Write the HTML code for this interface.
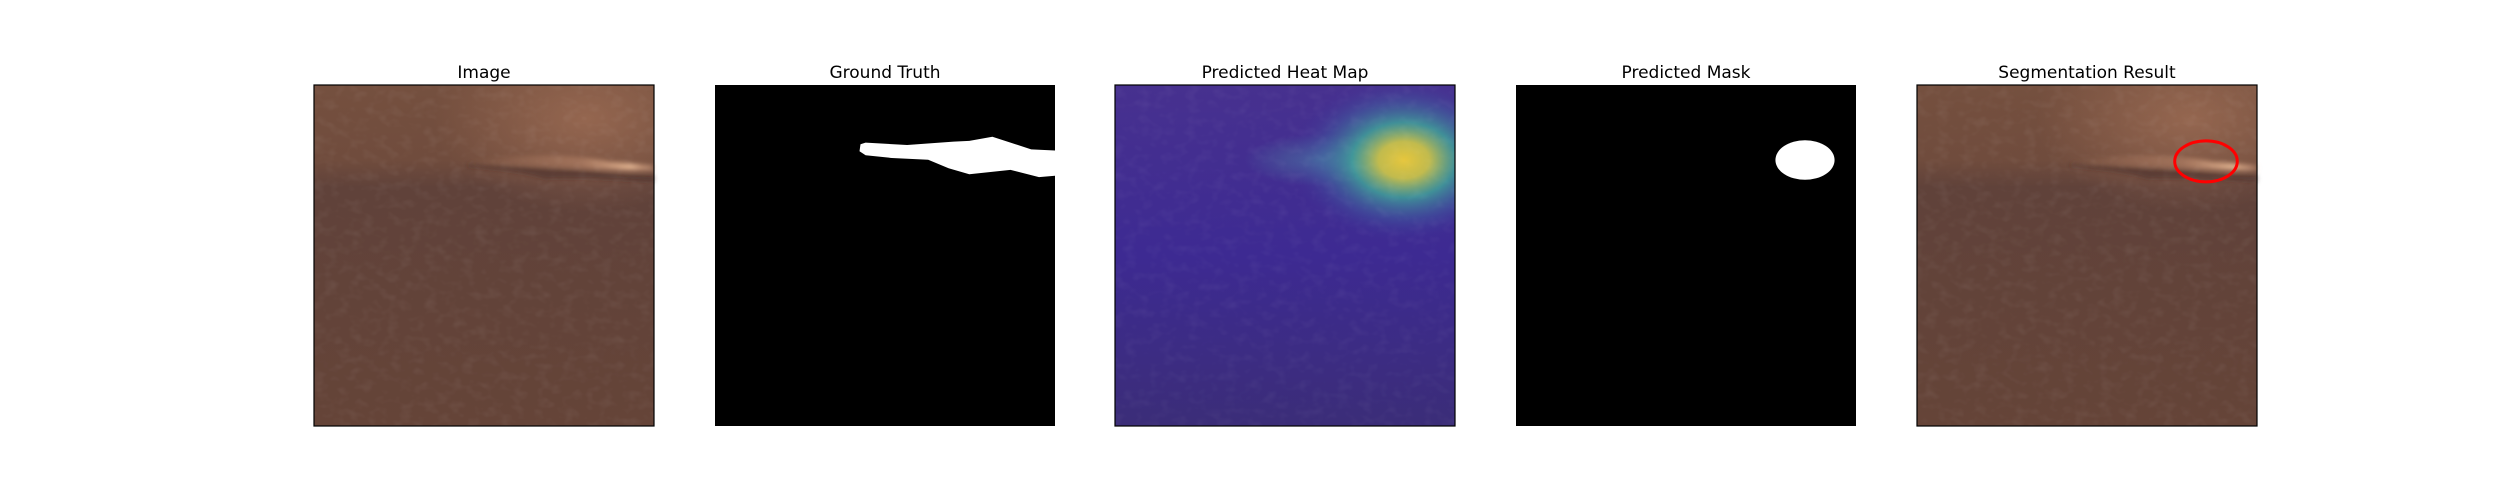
<!DOCTYPE html>
<html><head><meta charset="utf-8">
<style>
html,body{margin:0;padding:0;background:#fff;}
svg{display:block;}
text{font-family:"DejaVu Sans","Liberation Sans",sans-serif;font-size:17px;fill:#000;}
</style></head>
<body>
<svg id="fig" width="2500" height="500" viewBox="0 0 2500 500">
<defs>
  <filter id="grain" x="0" y="0" width="100%" height="100%">
    <feTurbulence type="fractalNoise" baseFrequency="0.08 0.11" numOctaves="2" seed="3" result="n"/>
    <feColorMatrix in="n" type="matrix" values="0 0 0 0 1  0 0 0 0 1  0 0 0 0 1  1.2 0 0 0 -0.55"/>
  </filter>
  <filter id="soft" x="-10%" y="-50%" width="120%" height="200%">
    <feGaussianBlur stdDeviation="2.5"/>
  </filter>
  <linearGradient id="leatherBase" x1="0" y1="0" x2="0" y2="1">
    <stop offset="0" stop-color="#75503f"/>
    <stop offset="0.22" stop-color="#704c3d"/>
    <stop offset="0.3" stop-color="#60423a"/>
    <stop offset="1" stop-color="#654438"/>
  </linearGradient>
  <radialGradient id="topLight" cx="0.8" cy="0.1" r="0.45" gradientTransform="translate(0.8 0.1) scale(1 0.6) translate(-0.8 -0.1)">
    <stop offset="0" stop-color="#b07a5e" stop-opacity="0.55"/>
    <stop offset="1" stop-color="#b07a5e" stop-opacity="0"/>
  </radialGradient>
  <linearGradient id="crease" x1="0" y1="0" x2="1" y2="0">
    <stop offset="0" stop-color="#d9a07e" stop-opacity="0"/>
    <stop offset="0.6" stop-color="#d9a07e" stop-opacity="0.35"/>
    <stop offset="0.87" stop-color="#f0c09a" stop-opacity="0.85"/>
    <stop offset="1" stop-color="#d9a07e" stop-opacity="0.4"/>
  </linearGradient>
  <linearGradient id="heatBase" x1="0" y1="0" x2="0" y2="1">
    <stop offset="0" stop-color="#47318f"/>
    <stop offset="0.5" stop-color="#3d2a92"/>
    <stop offset="1" stop-color="#3b2d78"/>
  </linearGradient>
  <radialGradient id="hot" cx="0.85" cy="0.22" r="0.34" gradientTransform="translate(0.85 0.22) scale(1 0.72) translate(-0.85 -0.22)">
    <stop offset="0" stop-color="#e6c63c"/>
    <stop offset="0.22" stop-color="#c8c24a" stop-opacity="0.95"/>
    <stop offset="0.45" stop-color="#3fb09a" stop-opacity="0.75"/>
    <stop offset="0.72" stop-color="#3f70a6" stop-opacity="0.35"/>
    <stop offset="1" stop-color="#40279a" stop-opacity="0"/>
  </radialGradient>
  <radialGradient id="tail" cx="0.6" cy="0.22" r="0.22" gradientTransform="translate(0.6 0.22) scale(1 0.35) translate(-0.6 -0.22)">
    <stop offset="0" stop-color="#4f90a8" stop-opacity="0.55"/>
    <stop offset="1" stop-color="#4f90a8" stop-opacity="0"/>
  </radialGradient>
</defs>
<g id="panels"></g>
</svg>
<script>
const titles = ["Image","Ground Truth","Predicted Heat Map","Predicted Mask","Segmentation Result"];
const panelX = [314,715,1115,1516,1917];
const panelY = 85, panelW = 340, panelH = 341;
// ground-truth mask outline (fractions of panel)
const gtX = [0.428,0.443,0.565,0.702,0.748,0.816,0.869,0.930,1.0,1.0,0.953,0.869,0.748,0.687,0.627,0.520,0.443,0.425];
const gtY = [0.174,0.169,0.176,0.166,0.164,0.152,0.169,0.189,0.192,0.266,0.270,0.249,0.262,0.244,0.219,0.214,0.206,0.194];
// predicted mask ellipse
const maskC = [0.85,0.22], maskR = [0.087,0.058];
const ringC = [0.85,0.224], ringR = [0.092,0.06];

const NS = "http://www.w3.org/2000/svg";
const g = document.getElementById('panels');
function mk(tag, attrs, parent){const e=document.createElementNS(NS,tag);for(const k in attrs)e.setAttribute(k,attrs[k]);(parent||g).appendChild(e);return e;}
function sx(i,f){return panelX[i]+f*panelW;}
function sy(f){return panelY+f*panelH;}
function grain(i,grp,op){
  const r=mk('rect',{x:panelX[i],y:panelY,width:panelW,height:panelH,fill:'#fff',filter:'url(#grain)',opacity:op},grp);
  
  
}

function leather(i, grp){
  const r=mk('rect',{x:panelX[i],y:panelY,width:panelW,height:panelH,fill:'url(#leatherBase)'},grp);
  
  
  mk('rect',{x:panelX[i],y:panelY,width:panelW,height:panelH,fill:'url(#topLight)'},grp);
  grain(i,grp,0.1);
  const cg=mk('g',{filter:'url(#soft)'},grp);
  const c=mk('path',{d:`M${sx(i,0.45)} ${sy(0.225)} Q${sx(i,0.7)} ${sy(0.19)} ${sx(i,0.87)} ${sy(0.225)} L${sx(i,1)} ${sy(0.235)} L${sx(i,1)} ${sy(0.252)} Q${sx(i,0.8)} ${sy(0.245)} ${sx(i,0.45)} ${sy(0.232)}Z`,fill:'url(#crease)'},cg);
  
  
  const d=mk('path',{d:`M${sx(i,0.45)} ${sy(0.232)} Q${sx(i,0.75)} ${sy(0.24)} ${sx(i,0.9)} ${sy(0.262)} L${sx(i,1)} ${sy(0.265)} L${sx(i,1)} ${sy(0.285)} Q${sx(i,0.8)} ${sy(0.27)} ${sx(i,0.68)} ${sy(0.275)} Q${sx(i,0.6)} ${sy(0.25)} ${sx(i,0.45)} ${sy(0.24)}Z`,fill:'#3a2520',opacity:0.45},cg);
  
  
}

titles.forEach((t,i)=>{
  const grp=mk('g',{});
  
  
  const tt=mk('text',{x:panelX[i]+panelW/2,y:78,'text-anchor':'middle'},grp);
  tt.textContent=t;
  
  
  if(i===0||i===4) leather(i,grp);
  if(i===1||i===3) mk('rect',{x:panelX[i],y:panelY,width:panelW,height:panelH,fill:'#000'},grp);
  if(i===2){
    const hb=mk('rect',{x:panelX[i],y:panelY,width:panelW,height:panelH,fill:'url(#heatBase)'},grp);
    
    
    mk('rect',{x:panelX[i],y:panelY,width:panelW,height:panelH,fill:'url(#tail)'},grp);
    const hs=mk('rect',{x:panelX[i],y:panelY,width:panelW,height:panelH,fill:'url(#hot)'},grp);
    
    
    grain(i,grp,0.08);
  }
  if(i===1){
    const pts=gtX.map((x,k)=>sx(i,x).toFixed(1)+','+sy(gtY[k]).toFixed(1)).join(' ');
    const p=mk('polygon',{points:pts,fill:'#fff'},grp);
    
    
  }
  if(i===3){
    const e=mk('ellipse',{cx:sx(i,maskC[0]),cy:sy(maskC[1]),rx:maskR[0]*panelW,ry:maskR[1]*panelH,fill:'#fff'},grp);
    
    
  }
  if(i===4){
    const e=mk('ellipse',{cx:sx(i,ringC[0]),cy:sy(ringC[1]),rx:ringR[0]*panelW,ry:ringR[1]*panelH,fill:'none',stroke:'#ff0000','stroke-width':3},grp);
    
    
  }
  if(i!==1&&i!==3){
    mk('rect',{x:panelX[i],y:panelY,width:panelW,height:panelH,fill:'none',stroke:'#000','stroke-width':1.2},grp);
  }
});
</script>
</body></html>
